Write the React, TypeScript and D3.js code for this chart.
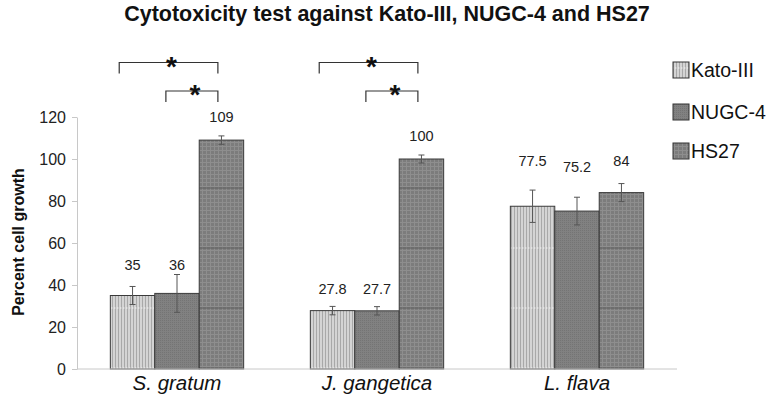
import * as d3 from 'd3';
import React, { useEffect, useRef } from 'react';

const plants = ['S. gratum', 'J. gangetica', 'L. flava'];
const cellLines = ['Kato-III', 'NUGC-4', 'HS27'];
const katoValues = [35, 27.8, 77.5];
const nugcValues = [36, 27.7, 75.2];
const hs27Values = [109, 100, 84];
const katoErrors = [4.3, 2, 7.7];
const nugcErrors = [9, 2, 6.6];
const hs27Errors = [2, 1.9, 4.3];
const katoLabelAt = [49.5, 38, 99];
const nugcLabelAt = [49.5, 38, 96];
const hs27LabelAt = [120, 111, 99];
const yTicks = [0, 20, 40, 60, 80, 100, 120];
// significance brackets: group, from series, to series, level (0 = upper)
const brackets = [
  { group: 0, from: 0, to: 2, level: 0 },
  { group: 0, from: 1, to: 2, level: 1 },
  { group: 1, from: 0, to: 2, level: 0 },
  { group: 1, from: 1, to: 2, level: 1 },
];

const width = 773;
const height = 401;
const margin = { top: 117, right: 96, bottom: 32, left: 77 };
const font = 'Liberation Sans, Arial, sans-serif';

const App: React.FC = () => {
  const ref = useRef<SVGSVGElement>(null);
  useEffect(() => {
    const svg = d3.select(ref.current);
    svg.selectAll('*').remove();

    const values = [katoValues, nugcValues, hs27Values];
    const errors = [katoErrors, nugcErrors, hs27Errors];
    const labelAt = [katoLabelAt, nugcLabelAt, hs27LabelAt];
    const fills = ['url(#patKato)', 'url(#patNugc)', 'url(#patHs)'];

    const x0 = d3.scaleBand<string>().domain(plants).range([margin.left, width - margin.right]).padding(0);
    const x1 = d3
      .scaleBand<string>()
      .domain(cellLines)
      .range([0, x0.bandwidth()])
      .paddingInner(0)
      .paddingOuter(0.75);
    const y = d3.scaleLinear().domain([0, 120]).range([height - margin.bottom, margin.top]);

    // patterns
    const defs = svg.append('defs');
    const pk = defs
      .append('pattern')
      .attr('id', 'patKato')
      .attr('patternUnits', 'userSpaceOnUse')
      .attr('width', 3)
      .attr('height', 60);
    pk.append('rect').attr('width', 3).attr('height', 60).attr('fill', '#d4d4d4');
    pk.append('rect').attr('x', 1).attr('width', 1).attr('height', 60).attr('fill', '#a8a8a8');
    pk.append('rect').attr('y', 7.5).attr('width', 1.5).attr('height', 1).attr('fill', '#f2f2f2');

    const pn = defs
      .append('pattern')
      .attr('id', 'patNugc')
      .attr('patternUnits', 'userSpaceOnUse')
      .attr('width', 2)
      .attr('height', 2);
    pn.append('rect').attr('width', 2).attr('height', 2).attr('fill', '#818181');
    pn.append('rect').attr('width', 1).attr('height', 1).attr('fill', '#747474');

    const ph = defs
      .append('pattern')
      .attr('id', 'patHs')
      .attr('patternUnits', 'userSpaceOnUse')
      .attr('width', 4)
      .attr('height', 60);
    ph.append('rect').attr('width', 4).attr('height', 60).attr('fill', '#7c7c7c');
    ph.append('rect').attr('x', 2).attr('width', 1).attr('height', 60).attr('fill', '#8e8e8e');
    for (let i = 0; i < 15; i++) {
      ph.append('rect').attr('y', i * 4 + 2).attr('width', 4).attr('height', 1).attr('fill', '#8e8e8e');
    }
    ph.append('rect').attr('y', 7.5).attr('width', 4).attr('height', 1).attr('fill', '#5e5e5e');

    // title
    svg
      .append('text')
      .attr('x', 387)
      .attr('y', 21)
      .attr('text-anchor', 'middle')
      .attr('font-family', font)
      .attr('font-weight', 'bold')
      .attr('font-size', 21.5)
      .attr('fill', '#111')
      .text('Cytotoxicity test against Kato-III, NUGC-4 and HS27');

    // y axis
    const yAxis = svg
      .append('g')
      .attr('transform', `translate(${margin.left},0)`)
      .call(d3.axisLeft(y).tickValues(yTicks).tickSize(5).tickSizeOuter(0).tickPadding(6));
    yAxis.selectAll('path, line').attr('stroke', '#c8c8c8');
    yAxis.selectAll('text').attr('font-family', font).attr('font-size', 16).attr('fill', '#222');

    svg
      .append('text')
      .attr('transform', `translate(24,${(y(0) + y(120)) / 2 - 1}) rotate(-90)`)
      .attr('text-anchor', 'middle')
      .attr('font-family', font)
      .attr('font-weight', 'bold')
      .attr('font-size', 16)
      .attr('fill', '#111')
      .text('Percent cell growth');

    // bars
    plants.forEach((p, gi) => {
      cellLines.forEach((c, si) => {
        const bx = (x0(p) || 0) + (x1(c) || 0);
        const bw = x1.bandwidth();
        const v = values[si][gi];
        const e = errors[si][gi];
        svg
          .append('rect')
          .attr('x', bx)
          .attr('y', y(v))
          .attr('width', bw)
          .attr('height', y(0) - y(v))
          .attr('fill', fills[si])
          .attr('stroke', '#3a3a3a')
          .attr('stroke-width', 1);
        const cx = bx + bw / 2;
        const eg = svg.append('g').attr('stroke', '#555').attr('stroke-width', 1);
        eg.append('line').attr('x1', cx).attr('x2', cx).attr('y1', y(v + e)).attr('y2', y(v - e));
        eg.append('line').attr('x1', cx - 3).attr('x2', cx + 3).attr('y1', y(v + e)).attr('y2', y(v + e));
        eg.append('line').attr('x1', cx - 3).attr('x2', cx + 3).attr('y1', y(v - e)).attr('y2', y(v - e));
        svg
          .append('text')
          .attr('x', cx)
          .attr('y', y(labelAt[si][gi]))
          .attr('dy', '0.35em')
          .attr('text-anchor', 'middle')
          .attr('font-family', font)
          .attr('font-size', 14.5)
          .attr('fill', '#222')
          .text(String(v));
      });
    });

    // x axis
    svg
      .append('line')
      .attr('x1', margin.left)
      .attr('x2', width - margin.right)
      .attr('y1', y(0))
      .attr('y2', y(0))
      .attr('stroke', '#c8c8c8');
    plants.forEach((p) => {
      svg
        .append('text')
        .attr('x', (x0(p) || 0) + x0.bandwidth() / 2)
        .attr('y', y(0) + 21)
        .attr('text-anchor', 'middle')
        .attr('font-family', font)
        .attr('font-style', 'italic')
        .attr('font-size', 20.5)
        .attr('fill', '#111')
        .text(p);
    });

    // significance brackets
    brackets.forEach((b) => {
      const bw = x1.bandwidth();
      const g0 = x0(plants[b.group]) || 0;
      const xa = g0 + (x1(cellLines[b.from]) || 0) + bw / 2 - (b.level === 0 ? 0.3 : 0.25) * bw;
      const xb = g0 + (x1(cellLines[b.to]) || 0) + bw / 2 - 0.08 * bw;
      const top = b.level === 0 ? 62.5 : 91;
      svg
        .append('path')
        .attr('d', `M${xa},${top + 11}V${top}H${xb}V${top + 11}`)
        .attr('fill', 'none')
        .attr('stroke', '#333')
        .attr('stroke-width', 1.2);
      svg
        .append('text')
        .attr('x', (xa + xb) / 2 + 3)
        .attr('y', top + 13)
        .attr('text-anchor', 'middle')
        .attr('font-family', font)
        .attr('font-weight', 'bold')
        .attr('font-size', 28)
        .attr('fill', '#111')
        .text('*');
    });

    // legend
    const legendY = [70, 112, 151];
    const legendFill = ['url(#patKato)', 'url(#patNugc)', 'url(#patHs)'];
    cellLines.forEach((c, i) => {
      svg
        .append('rect')
        .attr('x', 673)
        .attr('y', legendY[i] - 8)
        .attr('width', 16)
        .attr('height', 16)
        .attr('fill', legendFill[i])
        .attr('stroke', '#333');
      svg
        .append('text')
        .attr('x', 691)
        .attr('y', legendY[i])
        .attr('dy', '0.36em')
        .attr('font-family', font)
        .attr('font-size', 19.5)
        .attr('fill', '#111')
        .text(c);
    });
  }, []);
  return (
    <svg
      ref={ref}
      width={width}
      height={height}
      style={{ position: 'absolute', left: 0, top: 0, background: '#fff' }}
    ></svg>
  );
};

export default App;
